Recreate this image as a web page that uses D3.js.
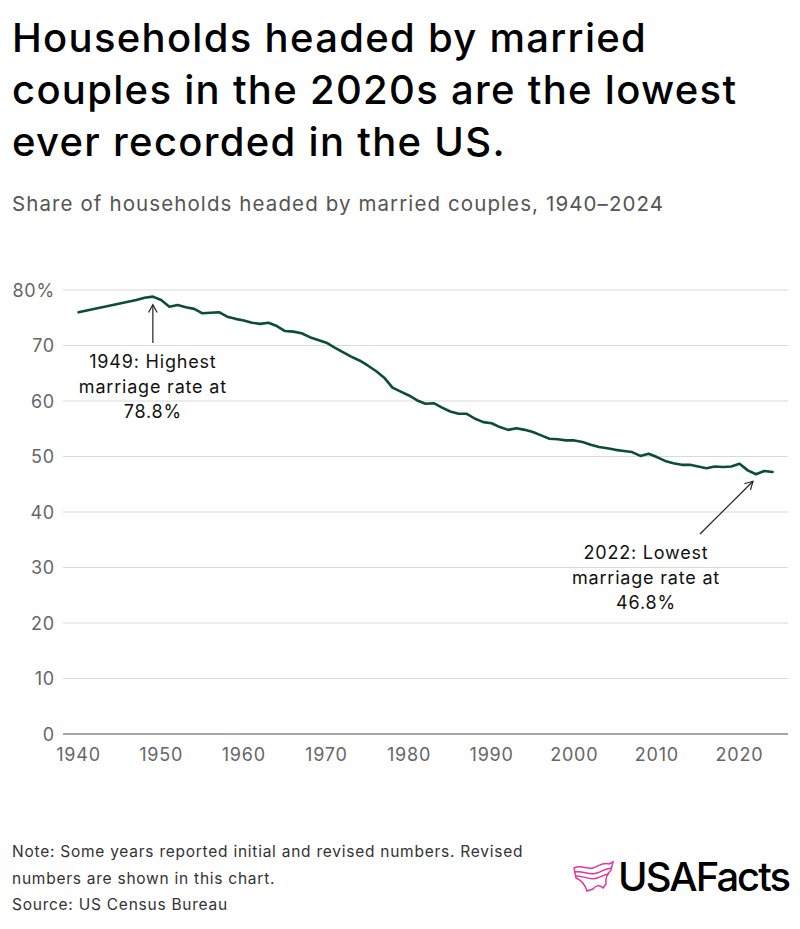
<!DOCTYPE html>
<html>
<head>
<meta charset="utf-8">
<script src="https://cdn.jsdelivr.net/npm/d3@7"></script>
<style>
  body { margin: 0; background: #fff; }
  svg { display: block; font-family: Inter, "Noto Sans", sans-serif; }
</style>
</head>
<body>
<svg id="chart"></svg>
<script>
const years = [1940, 1947, 1948, 1949, 1950, 1951, 1952, 1953, 1954, 1955, 1956, 1957, 1958, 1959,
  1960, 1961, 1962, 1963, 1964, 1965, 1966, 1967, 1968, 1969, 1970, 1971, 1972, 1973, 1974, 1975,
  1976, 1977, 1978, 1979, 1980, 1981, 1982, 1983, 1984, 1985, 1986, 1987, 1988, 1989, 1990, 1991,
  1992, 1993, 1994, 1995, 1996, 1997, 1998, 1999, 2000, 2001, 2002, 2003, 2004, 2005, 2006, 2007,
  2008, 2009, 2010, 2011, 2012, 2013, 2014, 2015, 2016, 2017, 2018, 2019, 2020, 2021, 2022, 2023, 2024];
const marriedShare = [76.0, 78.2, 78.6, 78.8, 78.2, 77.0, 77.3, 76.9, 76.6, 75.8, 75.9, 76.0, 75.2, 74.8,
  74.5, 74.1, 73.9, 74.1, 73.5, 72.6, 72.5, 72.2, 71.5, 71.0, 70.5, 69.6, 68.8, 68.0, 67.3, 66.4,
  65.4, 64.2, 62.4, 61.7, 61.0, 60.1, 59.5, 59.6, 58.8, 58.1, 57.7, 57.7, 56.8, 56.2, 56.0, 55.3,
  54.8, 55.1, 54.8, 54.4, 53.8, 53.2, 53.1, 52.9, 52.9, 52.6, 52.1, 51.7, 51.5, 51.2, 51.0, 50.8,
  50.1, 50.5, 49.9, 49.2, 48.8, 48.5, 48.5, 48.2, 47.9, 48.2, 48.1, 48.2, 48.7, 47.5, 46.8, 47.4, 47.2];
const yTicks = [0, 10, 20, 30, 40, 50, 60, 70, 80];
const xTicks = [1940, 1950, 1960, 1970, 1980, 1990, 2000, 2010, 2020];

const titleLines = ["Households headed by married", "couples in the 2020s are the lowest", "ever recorded in the US."];
const subtitle = "Share of households headed by married couples, 1940\u20132024";
const noteLines = ["Note: Some years reported initial and revised numbers. Revised", "numbers are shown in this chart.", "Source: US Census Bureau"];
const annotations = [
  { year: 1949, value: 78.8, lines: ["1949: Highest", "marriage rate at", "78.8%"] },
  { year: 2022, value: 46.8, lines: ["2022: Lowest", "marriage rate at", "46.8%"] }
];

const W = 800, H = 929;
const svg = d3.select("#chart").attr("width", W).attr("height", H);

// title + subtitle
svg.append("text")
  .attr("x", 12).attr("y", 52)
  .attr("font-size", 40).attr("font-weight", 500).attr("fill", "#000")
  .attr("letter-spacing", 1.3)
  .selectAll("tspan").data(titleLines).join("tspan")
  .attr("x", 12).attr("dy", (d, i) => i === 0 ? 0 : 52)
  .text(d => d);

svg.append("text")
  .attr("x", 12).attr("y", 211)
  .attr("font-size", 20.5).attr("fill", "#555")
  .attr("letter-spacing", 1.1)
  .text(subtitle);

// chart area
const x = d3.scaleLinear().domain([1940, 2020]).range([78.5, 739.5]);
const y = d3.scaleLinear().domain([0, 80]).range([734, 290]);
const gridLeft = 63, gridRight = 788;

svg.append("g").selectAll("line").data(yTicks.filter(d => d > 0)).join("line")
  .attr("x1", gridLeft).attr("x2", gridRight)
  .attr("y1", d => y(d)).attr("y2", d => y(d))
  .attr("stroke", "#d9d9d9").attr("stroke-width", 1);

svg.append("line")
  .attr("x1", gridLeft).attr("x2", gridRight)
  .attr("y1", y(0)).attr("y2", y(0))
  .attr("stroke", "#8a8a8a").attr("stroke-width", 1.5);

svg.append("g").selectAll("text").data(yTicks).join("text")
  .attr("x", 55).attr("y", d => y(d) + 6.5)
  .attr("text-anchor", "end")
  .attr("font-size", 18).attr("fill", "#666")
  .attr("letter-spacing", 0.8)
  .text(d => d === 80 ? "80%" : d);

svg.append("g").selectAll("text").data(xTicks).join("text")
  .attr("x", d => x(d)).attr("y", 761)
  .attr("text-anchor", "middle")
  .attr("font-size", 18).attr("fill", "#666")
  .attr("letter-spacing", 0.8)
  .text(d => d);

const series = years.map((yr, i) => ({ year: yr, value: marriedShare[i] }));
const line = d3.line().x(d => x(d.year)).y(d => y(d.value));

svg.append("path")
  .datum(series)
  .attr("d", line)
  .attr("fill", "none")
  .attr("stroke", "#0c4d3a")
  .attr("stroke-width", 2.6)
  .attr("stroke-linejoin", "round")
  .attr("stroke-linecap", "round");

// annotations
const arrowHead = (g, x1, y1, x2, y2) => {
  const ang = Math.atan2(y2 - y1, x2 - x1);
  const len = 9, spread = 0.5;
  const p = a => [x2 - len * Math.cos(ang + a), y2 - len * Math.sin(ang + a)];
  g.append("path")
    .attr("d", d3.line()([p(-spread), [x2, y2], p(spread)]))
    .attr("fill", "none").attr("stroke", "#222").attr("stroke-width", 1.2);
  g.append("line")
    .attr("x1", x1).attr("y1", y1).attr("x2", x2).attr("y2", y2)
    .attr("stroke", "#222").attr("stroke-width", 1.2);
};

const annG = svg.append("g");
// 1949: straight up arrow below the peak
const a0 = annotations[0];
arrowHead(annG, x(a0.year), 343, x(a0.year), y(a0.value) + 8);
annG.append("text")
  .attr("text-anchor", "middle").attr("font-size", 18).attr("fill", "#111")
  .attr("letter-spacing", 0.8)
  .selectAll("tspan").data(a0.lines).join("tspan")
  .attr("x", x(a0.year)).attr("y", (d, i) => 368 + i * 25)
  .text(d => d);

// 2022: diagonal arrow from text up to the low point
const a1 = annotations[1];
arrowHead(annG, 700, 534, x(a1.year) - 3, y(a1.value) + 7);
annG.append("text")
  .attr("text-anchor", "middle").attr("font-size", 18).attr("fill", "#111")
  .attr("letter-spacing", 0.8)
  .selectAll("tspan").data(a1.lines).join("tspan")
  .attr("x", 646).attr("y", (d, i) => 559 + i * 25)
  .text(d => d);

// footer notes
svg.append("text")
  .attr("font-size", 15.5).attr("fill", "#333")
  .attr("letter-spacing", 0.75)
  .selectAll("tspan").data(noteLines).join("tspan")
  .attr("x", 12).attr("y", (d, i) => 857 + i * 26.5)
  .text(d => d);

// logo
const logo = svg.append("g").attr("transform", "translate(573,862)");
const pink = "#e0399a";
logo.append("path")
  .attr("d", "M1,6 C8,2 14,8 20,6 C26,4 30,0 36,2 L40,0 L38,8 C34,12 32,16 33,22 L30,26 C26,22 22,24 20,27 L14,29 C12,22 8,18 3,16 Z")
  .attr("fill", "none").attr("stroke", pink).attr("stroke-width", 1.5);
logo.append("path")
  .attr("d", "M1,10 C10,8 16,14 24,11 C30,9 34,6 39,6 M2,14 C10,13 16,19 24,16 C28,15 32,12 36,12")
  .attr("fill", "none").attr("stroke", pink).attr("stroke-width", 1.5);
svg.append("text")
  .attr("x", 789).attr("y", 891)
  .attr("text-anchor", "end")
  .attr("font-size", 40).attr("font-weight", 500).attr("fill", "#000")
  .attr("letter-spacing", -2)
  .text("USAFacts");
</script>
</body>
</html>
